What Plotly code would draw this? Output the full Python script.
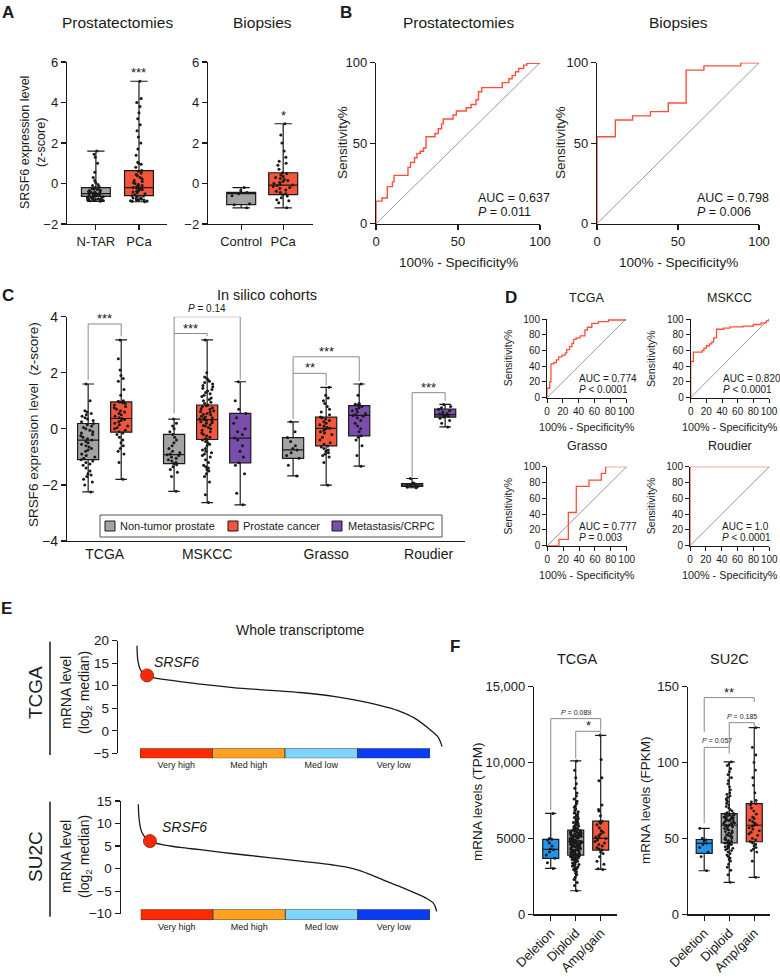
import plotly.graph_objects as go

W, H = 780, 977
FONT = "Liberation Sans, Arial, Helvetica, sans-serif"
INK = "#1a1a1a"
GRAY = "#a3a3a3"
RED = "#f4553b"
PURPLE = "#7b4dad"
BLUE = "#2196f0"
ROC_RED = "#ff4f3a"
BRACKET = "#8a8a8a"

# ---------------- Panel A data ----------------
a_cats_prost = ["N-TAR", "PCa"]
a_cats_biop = ["Control", "PCa"]
a_prost_lo = [-0.88, -0.90]
a_prost_q1 = [-0.64, -0.60]
a_prost_med = [-0.50, -0.20]
a_prost_q3 = [-0.20, 0.64]
a_prost_hi = [1.60, 5.05]
a_biop_lo = [-1.20, -1.20]
a_biop_q1 = [-1.04, -0.55]
a_biop_med = [-0.50, -0.08]
a_biop_q3 = [-0.44, 0.53]
a_biop_hi = [-0.20, 2.95]
a_ntar_pts = [-0.88, -0.85, -0.84, -0.82, -0.81, -0.80, -0.79, -0.78, -0.77, -0.76, -0.75, -0.74, -0.72, -0.70,
              -0.68, -0.66, -0.64, -0.62, -0.60, -0.58, -0.56, -0.54, -0.52, -0.50, -0.49, -0.47, -0.45, -0.43,
              -0.41, -0.39, -0.37, -0.35, -0.33, -0.30, -0.28, -0.25, -0.22, -0.20, -0.15, -0.10, -0.05, 0.05,
              0.15, 0.30, 0.55, 1.00, 1.30, 1.45, 1.60]
a_pca_pts = [-0.90, -0.88, -0.87, -0.85, -0.84, -0.82, -0.80, -0.78, -0.75, -0.72, -0.70, -0.66, -0.62, -0.60,
             -0.55, -0.50, -0.46, -0.42, -0.38, -0.34, -0.30, -0.26, -0.23, -0.20, -0.17, -0.13, -0.10, -0.05,
             0.00, 0.05, 0.10, 0.15, 0.22, 0.30, 0.38, 0.45, 0.52, 0.60, 0.64, 0.80, 0.95, 1.00, 1.05, 1.40,
             1.70, 2.00, 2.30, 2.60, 2.90, 3.20, 3.50, 3.80, 4.00, 4.20, 5.05]
a_ctrl_pts = [-1.20, -1.05, -1.00, -0.60, -0.50, -0.45, -0.35, -0.20]
a_bpca_pts = [-1.20, -0.95, -0.85, -0.80, -0.70, -0.62, -0.55, -0.50, -0.45, -0.38, -0.32, -0.25, -0.20, -0.15,
              -0.10, -0.08, -0.05, 0.00, 0.05, 0.10, 0.15, 0.20, 0.25, 0.30, 0.35, 0.42, 0.50, 0.53, 0.70, 0.90,
              1.00, 1.10, 1.30, 1.60, 2.00, 2.40, 2.95]

# ---------------- Panel B data (ROC) ----------------
b_prost_fpr = [0, 0, 3.7, 6.9, 10, 11, 19.5, 21, 23.5, 25, 27, 29, 30.5, 36, 38, 40, 41, 47, 49, 55, 58, 61,
               62.5, 64.5, 77, 81, 83, 85, 87, 90, 92, 100]
b_prost_tpr = [0, 14, 16, 23, 26, 30, 35, 38, 41, 43.7, 45, 47, 54, 56, 59, 62, 65, 67.5, 70, 72, 74, 77,
               82, 84.5, 87.6, 90, 92, 94.4, 96.5, 98.5, 99.6, 100]
b_prost_auc = "AUC = 0.637"
b_prost_p = "<i>P</i> = 0.011"
b_biop_fpr = [0, 0, 11.3, 22, 33, 44, 55, 66, 88.7, 100]
b_biop_tpr = [0, 54, 64.4, 67, 69.6, 75, 95.4, 98, 100, 100]
b_biop_auc = "AUC = 0.798"
b_biop_p = "<i>P</i> = 0.006"
diag = [0, 100]

# ---------------- Panel C data ----------------
c_groups = ["TCGA", "MSKCC", "Grasso", "Roudier"]
c_group_pos = [0.5, 3.6, 7.2, 10.3]
c_pos = [0, 1, 2.6, 3.6, 4.6, 6.2, 7.2, 8.2, 9.8, 10.8]
c_kind = ["nt", "pc", "nt", "pc", "met", "nt", "pc", "met", "nt", "met"]
c_lo = [-2.25, -1.80, -2.23, -2.63, -2.71, -1.68, -2.01, -1.33, -2.10, 0.07]
c_q1 = [-1.10, -0.12, -1.24, -0.38, -1.21, -1.05, -0.61, -0.25, -2.05, 0.42]
c_med = [-0.40, 0.37, -0.92, 0.33, -0.33, -0.75, 0.02, 0.48, -2.00, 0.51]
c_q3 = [0.19, 0.96, -0.20, 0.85, 0.55, -0.31, 0.42, 0.83, -1.95, 0.70]
c_hi = [1.60, 3.17, 0.35, 3.17, 1.68, 0.25, 1.48, 1.60, -1.77, 0.87]
c_pts = [
    [-2.25, -2.0, -1.9, -1.8, -1.7, -1.65, -1.6, -1.5, -1.4, -1.3, -1.25, -1.2, -1.15, -1.1, -1.05, -1.0, -0.95,
     -0.9, -0.8, -0.75, -0.7, -0.65, -0.6, -0.55, -0.5, -0.45, -0.4, -0.35, -0.3, -0.25, -0.2, -0.15, -0.1,
     -0.05, 0.0, 0.05, 0.1, 0.15, 0.19, 0.25, 0.3, 0.35, 0.4, 0.45, 0.5, 0.55, 0.6, 0.65, 1.0, 1.6],
    [-1.8, -1.2, -0.9, -0.8, -0.7, -0.6, -0.5, -0.4, -0.3, -0.2, -0.15, -0.1, -0.05, 0.0, 0.05, 0.1, 0.15, 0.2,
     0.25, 0.3, 0.33, 0.37, 0.4, 0.45, 0.5, 0.55, 0.6, 0.65, 0.7, 0.75, 0.8, 0.85, 0.9, 0.93, 0.96, 0.98, 1.0,
     1.2, 1.4, 1.7, 1.8, 1.9, 2.1, 2.5, 3.17],
    [-2.23, -1.7, -1.55, -1.45, -1.35, -1.28, -1.24, -1.2, -1.15, -1.1, -1.05, -1.0, -0.95, -0.92, -0.9, -0.85,
     -0.8, -0.7, -0.6, -0.5, -0.4, -0.3, -0.2, -0.1, 0.0, 0.1, 0.2, 0.35],
    [-2.63, -2.35, -1.9, -1.7, -1.6, -1.5, -1.45, -1.4, -1.35, -1.3, -1.2, -1.1, -1.0, -0.95, -0.9, -0.85, -0.8,
     -0.75, -0.7, -0.6, -0.55, -0.5, -0.45, -0.4, -0.38, -0.35, -0.3, -0.25, -0.2, -0.15, -0.1, -0.05, 0.0,
     0.05, 0.1, 0.12, 0.15, 0.2, 0.22, 0.25, 0.28, 0.3, 0.33, 0.35, 0.38, 0.4, 0.42, 0.45, 0.5, 0.52, 0.55,
     0.6, 0.62, 0.65, 0.7, 0.72, 0.75, 0.8, 0.82, 0.85, 0.9, 0.95, 1.0, 1.05, 1.1, 1.15, 1.2, 1.25, 1.3, 1.35,
     1.4, 1.45, 1.5, 1.55, 1.6, 1.65, 1.7, 1.75, 1.8, 1.85, 2.0, 3.17],
    [-2.71, -2.3, -1.6, -1.3, -1.21, -1.0, -0.8, -0.6, -0.4, -0.33, -0.2, -0.1, 0.0, 0.2, 0.4, 0.55, 0.7, 1.0,
     1.68],
    [-1.68, -1.3, -1.05, -0.95, -0.85, -0.75, -0.7, -0.6, -0.45, -0.31, -0.1, 0.25],
    [-2.01, -1.2, -1.0, -0.95, -0.9, -0.85, -0.8, -0.75, -0.7, -0.65, -0.61, -0.55, -0.5, -0.4, -0.3, -0.2,
     -0.15, -0.1, -0.05, 0.0, 0.02, 0.05, 0.1, 0.15, 0.2, 0.25, 0.3, 0.35, 0.4, 0.42, 0.5, 0.6, 0.7, 0.8, 0.9,
     1.0, 1.1, 1.2, 1.48],
    [-1.33, -0.95, -0.6, -0.4, -0.3, -0.25, -0.1, 0.0, 0.1, 0.2, 0.3, 0.4, 0.45, 0.48, 0.5, 0.55, 0.6, 0.65,
     0.7, 0.75, 0.8, 0.83, 0.85, 0.88, 0.9, 1.2, 1.6],
    [-2.1, -2.07, -2.05, -2.03, -2.0, -1.98, -1.96, -1.93, -1.77],
    [0.07, 0.2, 0.3, 0.38, 0.42, 0.45, 0.48, 0.5, 0.51, 0.53, 0.55, 0.6, 0.65, 0.7, 0.75, 0.8, 0.87],
]
c_legend = ["Non-tumor prostate", "Prostate cancer", "Metastasis/CRPC"]
# brackets: x_left, x_right, y_top, y_left_end, y_right_end, label
c_brackets = [
    (0, 1, 3.74, 1.75, 3.3, "***"),
    (2.6, 3.6, 3.40, 0.55, 3.3, "***"),
    (2.6, 4.6, 4.00, 3.40, 1.75, "<i>P</i> = 0.14"),
    (6.2, 7.2, 1.98, 0.35, 1.55, "**"),
    (6.2, 8.2, 2.57, 1.98, 1.70, "***"),
    (9.8, 10.8, 1.29, -1.72, 1.00, "***"),
]

# ---------------- Panel D data ----------------
d_names = ["TCGA", "MSKCC", "Grasso", "Roudier"]
d_fpr = [
    [0, 0, 3.4, 5, 8.4, 11.8, 14.7, 19, 23, 25, 28.6, 31.5, 33.6, 37, 42, 48, 51, 56.7, 65, 78, 100],
    [0, 0, 3.4, 14.7, 17, 20, 24, 27, 29.4, 33, 42, 50, 67, 80, 90, 96.6, 100],
    [0, 14.7, 26.5, 36.5, 52.5, 68, 73.5, 100],
    [0, 0, 100],
]
d_tpr = [
    [0, 12, 20, 43, 44.5, 48, 52, 54, 57, 61, 65, 69, 74, 76, 78.5, 86, 89.5, 94.5, 96.6, 98.7, 100],
    [0, 46, 58, 60, 63, 66, 68.5, 71, 76, 87, 88.5, 90, 91, 93, 95, 97.5, 100],
    [0, 8, 42, 75, 83, 91.6, 100, 100],
    [0, 100, 100],
]
d_auc = ["AUC = 0.774", "AUC = 0.820", "AUC = 0.777", "AUC = 1.0"]
d_p = ["<i>P</i> &lt; 0.0001", "<i>P</i> &lt; 0.0001", "<i>P</i> = 0.003", "<i>P</i> &lt; 0.0001"]

# ---------------- Panel E data ----------------
e_tcga_rank = [0, 0.3, 1, 2, 3.3, 6, 10, 20, 31.5, 45, 53.4, 65, 75.4, 82, 86.2, 91, 96, 98.5, 99.5, 100]
e_tcga_val = [18.9, 15.5, 13.7, 12.8, 12.3, 11.7, 11.3, 10.4, 9.6, 8.9, 8.5, 7.6, 6.3, 5.2, 4.3, 2.8, 0.3,
              -1.2, -2.5, -3.5]
e_tcga_srsf6 = (3.3, 12.3)
e_su2c_rank = [0, 0.2, 0.6, 1.2, 2.5, 3.9, 8, 14, 20.7, 32, 43, 55, 65.2, 72, 76.5, 82, 87.7, 93, 96.6, 98.8,
               99.6, 100]
e_su2c_val = [14.3, 11.5, 9.5, 8.0, 6.8, 6.1, 5.3, 4.7, 4.2, 3.3, 2.5, 1.6, 0.8, 0.0, -1.0, -2.5, -4.0, -5.5,
              -6.6, -7.6, -8.6, -9.5]
e_su2c_srsf6 = (3.9, 6.1)
e_bins = ["Very high", "Med high", "Med low", "Very low"]
e_bin_size = [1, 1, 1, 1]
e_bin_colors = ["#ff2a00", "#ffa11e", "#7dd5fb", "#0a3cf5"]

# ---------------- Panel F data ----------------
f_cats = ["Deletion", "Diploid", "Amp/gain"]
f_colors = [BLUE, GRAY, RED]
f_tcga_lo = [3026, 1553, 2960]
f_tcga_q1 = [3684, 3901, 4230]
f_tcga_med = [4276, 4776, 5000]
f_tcga_q3 = [4934, 5546, 6138]
f_tcga_hi = [6645, 10105, 11796]
f_su2c_lo = [28.7, 21.0, 24.3]
f_su2c_q1 = [40.1, 47.1, 47.8]
f_su2c_med = [46.7, 58.7, 58.7]
f_su2c_q3 = [49.3, 66.4, 73.0]
f_su2c_hi = [56.6, 100.4, 123.0]
f_tcga_pts = [
    [3026, 3400, 3700, 3900, 4100, 4250, 4300, 4500, 4700, 4900, 4950, 5000, 6645],
    [1553, 1900, 2100, 2300, 2450, 2600, 2700, 2800, 2880, 2950, 3000, 3060, 3120, 3180, 3230, 3280, 3330,
     3380, 3420, 3460, 3500, 3540, 3580, 3610, 3640, 3670, 3700, 3730, 3760, 3790, 3810, 3830, 3850, 3870,
     3880, 3890, 3900, 3920, 3950, 3980, 4000, 4030, 4060, 4090, 4110, 4140, 4160, 4190, 4210, 4240, 4260,
     4290, 4310, 4340, 4360, 4390, 4410, 4430, 4460, 4480, 4500, 4520, 4540, 4560, 4590, 4610, 4630, 4650,
     4670, 4690, 4710, 4730, 4750, 4760, 4776, 4790, 4810, 4830, 4850, 4870, 4890, 4910, 4930, 4950, 4970,
     4990, 5010, 5030, 5050, 5070, 5090, 5110, 5130, 5150, 5170, 5190, 5210, 5230, 5250, 5270, 5290, 5310,
     5330, 5350, 5370, 5390, 5410, 5430, 5450, 5470, 5500, 5520, 5546, 5580, 5620, 5660, 5700, 5740, 5780,
     5820, 5860, 5900, 5950, 6000, 6050, 6100, 6150, 6200, 6260, 6320, 6380, 6450, 6520, 6600, 6680, 6760,
     6850, 6950, 7050, 7150, 7300, 7450, 7600, 7800, 8000, 8300, 8600, 9000, 9500, 10105],
    [2960, 3000, 3300, 3500, 3800, 4000, 4100, 4230, 4300, 4400, 4500, 4600, 4700, 4800, 4900, 5000, 5050,
     5100, 5200, 5300, 5400, 5500, 5700, 5900, 6000, 6100, 6138, 6500, 6800, 6900, 7200, 8800, 9000, 10200,
     11796],
]
f_su2c_pts = [
    [28.7, 38, 41, 44, 46, 46.7, 48, 49, 50, 56.6],
    [21, 26, 29, 31, 33, 35, 36, 37, 38, 39, 40, 41, 42, 42.5, 43, 43.5, 44, 44.5, 45, 45.5, 46, 46.3, 46.6,
     46.9, 47.1, 47.5, 48, 48.5, 49, 49.5, 50, 50.5, 51, 51.5, 52, 52.5, 53, 53.5, 54, 54.5, 55, 55.5, 56,
     56.5, 57, 57.5, 58, 58.3, 58.5, 58.7, 59, 59.3, 59.6, 60, 60.3, 60.6, 61, 61.3, 61.6, 62, 62.3, 62.6, 63,
     63.3, 63.6, 64, 64.3, 64.6, 65, 65.3, 65.6, 65.9, 66.1, 66.3, 66.4, 67, 68, 69, 70, 71, 72, 73, 74, 75,
     76, 77, 78, 79, 80, 82, 84, 86, 88, 90, 92, 94, 96, 98, 99, 100.4],
    [24.3, 35, 41, 42, 43, 44, 45, 46, 47, 47.8, 49, 50, 52, 53, 54, 55, 56, 57, 58, 58.7, 59, 60, 61, 62, 63,
     64, 66, 68, 70, 72, 73, 74, 75, 80, 85, 90, 95, 100, 105, 110, 123],
]
f_tcga_brackets = [
    (0, 2, 12895, 6862, 12125, "<i>P</i> = 0.089"),
    (1, 2, 12059, 10283, 11842, "*"),
]
f_su2c_brackets = [
    (0, 2, 142.8, 120.0, 139.8, "**"),
    (1, 2, 126.3, 110.0, 124.0, "<i>P</i> = 0.185"),
    (0, 1, 110.0, 60.0, 105.9, "<i>P</i> = 0.057"),
]

# =====================================================================
fig = go.Figure()
axes = {}
count = [0]
ann = []
shapes = []


def new_axes(x0, x1, y0, y1, xr, yr, xopt=None, yopt=None, fs=13, lw=1.2, tl=5):
    count[0] += 1
    n = count[0]
    s = "" if n == 1 else str(n)
    base = dict(showgrid=False, zeroline=False, showline=True, linecolor=INK, linewidth=lw,
                ticks="outside", ticklen=tl, tickwidth=lw, tickcolor=INK, tickangle=0, automargin=False,
                tickfont=dict(size=fs, color=INK, family=FONT), fixedrange=True)
    xa = dict(base, domain=[x0 / W, x1 / W], range=xr, anchor="y" + s)
    ya = dict(base, domain=[1 - y1 / H, 1 - y0 / H], range=yr, anchor="x" + s)
    if xopt:
        xa.update(xopt)
    if yopt:
        ya.update(yopt)
    axes["xaxis" + s] = xa
    axes["yaxis" + s] = ya
    return "x" + s, "y" + s


def txt(x, y, s, size=13, xa="center", ya="middle", angle=0, bold=False, xref="paper", yref="paper",
        color=INK, yshift=0):
    if xref == "paper":
        x = x / W
    if yref == "paper":
        y = 1 - y / H
    if bold:
        s = "<b>" + s + "</b>"
    ann.append(dict(x=x, y=y, xref=xref, yref=yref, text=s, showarrow=False, xanchor=xa, yanchor=ya,
                    textangle=angle, yshift=yshift, font=dict(size=size, color=color, family=FONT)))


def rect_px(x0, y0, x1, y1, fill, lw=1, lc=INK):
    shapes.append(dict(type="rect", xref="paper", yref="paper", x0=x0 / W, x1=x1 / W, y0=1 - y1 / H,
                       y1=1 - y0 / H, fillcolor=fill, line=dict(color=lc, width=lw)))


def box(xa, ya, pos, lo, q1, med, q3, hi, color, width, ww=0.6):
    fig.add_trace(go.Box(x=[pos], q1=[q1], median=[med], q3=[q3], lowerfence=[lo], upperfence=[hi],
                         orientation="v", width=width, whiskerwidth=ww, fillcolor=color,
                         line=dict(color=INK, width=1.2), boxpoints=False, xaxis=xa, yaxis=ya,
                         showlegend=False, hoverinfo="skip"))


def pts(xa, ya, pos, vals, width, jitter=0.75, size=3):
    fig.add_trace(go.Box(x=[pos] * len(vals), y=vals, orientation="v", width=width, boxpoints="all",
                         jitter=jitter, pointpos=0, fillcolor="rgba(0,0,0,0)",
                         line=dict(color="rgba(0,0,0,0)", width=0),
                         marker=dict(size=size, color=INK, line=dict(width=0)),
                         xaxis=xa, yaxis=ya, showlegend=False, hoverinfo="skip"))


def bracket(xa, ya, b, fs=13, pfs=9.5):
    xl, xr, yt, yl, yr, lab = b
    fig.add_trace(go.Scatter(x=[xl, xl, xr, xr], y=[yl, yt, yt, yr], mode="lines",
                             line=dict(color=BRACKET, width=1), xaxis=xa, yaxis=ya, showlegend=False,
                             hoverinfo="skip", cliponaxis=False))
    if "P" in lab:
        txt((xl + xr) / 2, yt, lab, size=pfs, ya="bottom", xref=xa, yref=ya, yshift=1)
    else:
        txt((xl + xr) / 2, yt, lab, size=fs, ya="bottom", xref=xa, yref=ya, yshift=-4)


def roc(xa, ya, fpr, tpr, width=1.4):
    fig.add_trace(go.Scatter(x=diag, y=diag, mode="lines", line=dict(color="#555555", width=0.6),
                             xaxis=xa, yaxis=ya, showlegend=False, hoverinfo="skip", cliponaxis=False))
    fig.add_trace(go.Scatter(x=fpr, y=tpr, mode="lines", line=dict(color=ROC_RED, width=width, shape="hv"),
                             xaxis=xa, yaxis=ya, showlegend=False, hoverinfo="skip", cliponaxis=False))


# ---------------- Panel A ----------------
xa, ya = new_axes(67, 167, 62, 224, [-0.67, 1.65], [-2, 6],
                  xopt=dict(tickvals=[0, 1], ticktext=a_cats_prost), yopt=dict(tickvals=[-2, 0, 2, 4, 6]))
for i, col in enumerate([GRAY, RED]):
    box(xa, ya, i, a_prost_lo[i], a_prost_q1[i], a_prost_med[i], a_prost_q3[i], a_prost_hi[i], col, 0.67)
pts(xa, ya, 0, a_ntar_pts, 0.67)
pts(xa, ya, 1, a_pca_pts, 0.67)
txt(1, 5.5, "***", size=13, xref=xa, yref=ya)

xa, ya = new_axes(208, 313, 62, 224, [-0.79, 1.71], [-2, 6],
                  xopt=dict(tickvals=[0, 1], ticktext=a_cats_biop), yopt=dict(tickvals=[-2, 0, 2, 4, 6]))
for i, col in enumerate([GRAY, RED]):
    box(xa, ya, i, a_biop_lo[i], a_biop_q1[i], a_biop_med[i], a_biop_q3[i], a_biop_hi[i], col, 0.69)
pts(xa, ya, 0, a_ctrl_pts, 0.69)
pts(xa, ya, 1, a_bpca_pts, 0.69)
txt(1, 3.36, "*", size=13, xref=xa, yref=ya)

txt(8, 12, "A", size=17, bold=True)
txt(118, 23, "Prostatectomies", size=15.5)
txt(262, 23, "Biopsies", size=15.5)
txt(33, 143, "SRSF6 expression level<br>(z-score)", size=12.5, angle=-90)

# ---------------- Panel B ----------------
xa, ya = new_axes(376, 540, 62.7, 223.7, [0, 100], [0, 100],
                  xopt=dict(tickvals=[0, 50, 100]), yopt=dict(tickvals=[0, 50, 100]))
roc(xa, ya, b_prost_fpr, b_prost_tpr)
xa, ya = new_axes(597, 759, 62.7, 223.7, [0, 100], [0, 100],
                  xopt=dict(tickvals=[0, 50, 100]), yopt=dict(tickvals=[0, 50, 100]))
roc(xa, ya, b_biop_fpr, b_biop_tpr)
txt(346, 12, "B", size=17, bold=True)
txt(458, 23, "Prostatectomies", size=15.5)
txt(678, 23, "Biopsies", size=15.5)
txt(343, 143, "Sensitivity%", size=13.5, angle=-90)
txt(561, 143, "Sensitivity%", size=13.5, angle=-90)
txt(458, 262, "100% - Specificity%", size=13.5)
txt(678, 262, "100% - Specificity%", size=13.5)
txt(476, 198, b_prost_auc, size=12.5, xa="left")
txt(476, 212, b_prost_p, size=12.5, xa="left")
txt(695, 198, b_biop_auc, size=12.5, xa="left")
txt(695, 212, b_biop_p, size=12.5, xa="left")

# ---------------- Panel C ----------------
xa, ya = new_axes(67, 465, 316.7, 541, [-0.64, 11.4], [-4, 4], fs=14,
                  xopt=dict(tickvals=c_group_pos, ticktext=c_groups, ticks=""),
                  yopt=dict(tickvals=[-4, -2, 0, 2, 4]))
kind_col = {"nt": GRAY, "pc": RED, "met": PURPLE}
for i in range(len(c_pos)):
    box(xa, ya, c_pos[i], c_lo[i], c_q1[i], c_med[i], c_q3[i], c_hi[i], kind_col[c_kind[i]], 0.64, ww=0.55)
    pts(xa, ya, c_pos[i], c_pts[i], 0.64)
for b in c_brackets:
    bracket(xa, ya, b, fs=13, pfs=10)
# legend box (drawn as a key with real text)
rect_px(100, 515, 442, 537, "white", lw=1, lc="#555555")
for name, col, sx, tx in zip(c_legend, [GRAY, RED, PURPLE], [105, 228, 332], [118, 241, 346]):
    rect_px(sx, 521, sx + 10, 531, col, lw=1, lc=INK)
    txt(tx, 526, name, size=11, xa="left")
txt(8, 295, "C", size=17, bold=True)
txt(267, 295, "In silico cohorts", size=14.5)
txt(33, 425, "SRSF6 expression level  (z-score)", size=13.5, angle=-90)

# ---------------- Panel D ----------------
d_boxes = [(547, 626, 319, 397.7), (690.7, 769, 319, 397.7), (547.3, 626.7, 466.7, 545.7),
           (690, 769.3, 466.7, 545.7)]
for k, (x0, x1, y0, y1) in enumerate(d_boxes):
    xa, ya = new_axes(x0, x1, y0, y1, [0, 100], [0, 100], fs=10, lw=1, tl=4,
                      xopt=dict(dtick=20), yopt=dict(dtick=20))
    roc(xa, ya, d_fpr[k], d_tpr[k], width=1.3)
    cx = (x0 + x1) / 2
    txt(cx, y0 - 21, d_names[k], size=12.5)
    txt(x0 - 39, (y0 + y1) / 2, "Sensitivity%", size=10.5, angle=-90)
    txt(cx, y1 + 29, "100% - Specificity%", size=10.8)
    txt(x0 + 30, y1 - 19, d_auc[k], size=10, xa="left")
    txt(x0 + 30, y1 - 8, d_p[k], size=10, xa="left")
txt(511, 297, "D", size=17, bold=True)


# ---------------- Panel E ----------------
def e_panel(curve_box, bar_box, yr, yt, rank, val, dot, label_xy, big, big_y, sep):
    x0, x1, y0, y1, xr = curve_box
    xa, ya = new_axes(x0, x1, y0, y1, xr, yr, fs=13.5,
                      xopt=dict(visible=False),
                      yopt=dict(tickvals=yt))
    fig.add_trace(go.Scatter(x=rank, y=val, mode="lines", line=dict(color=INK, width=1.3, shape="spline"),
                             xaxis=xa, yaxis=ya, showlegend=False, hoverinfo="skip", cliponaxis=False))
    fig.add_trace(go.Scatter(x=[dot[0]], y=[dot[1]], mode="markers",
                             marker=dict(size=13, color="#f52a0c", line=dict(color="#9a1a00", width=0.8)),
                             xaxis=xa, yaxis=ya, showlegend=False, hoverinfo="skip", cliponaxis=False))
    bx0, bx1, by0, by1 = bar_box
    xb, yb = new_axes(bx0, bx1, by0, by1, [-0.5, 3.5], [0, 1], fs=9,
                      xopt=dict(showline=False, ticks="", tickvals=[0, 1, 2, 3], ticktext=e_bins),
                      yopt=dict(visible=False, tickvals=[]))
    fig.add_trace(go.Bar(x=[0, 1, 2, 3], y=e_bin_size, width=1,
                         marker=dict(color=e_bin_colors, line=dict(color="#3a3a3a", width=0.8)),
                         xaxis=xb, yaxis=yb, showlegend=False, hoverinfo="skip"))
    txt(label_xy[0], label_xy[1], "<i>SRSF6</i>", size=14)
    txt(35, big_y, big, size=19, angle=-90)
    txt(76, big_y, "mRNA level<br>(log<sub>2</sub> median)", size=14, angle=-90)
    shapes.append(dict(type="line", xref="paper", yref="paper", x0=50 / W, x1=50 / W,
                       y0=1 - sep[0] / H, y1=1 - sep[1] / H, line=dict(color=INK, width=1.5)))


e_panel((118, 445, 640.7, 753.3, [-6.23, 100.98]), (140, 430, 748.3, 758.3), [-5, 20], [-5, 0, 5, 10, 15, 20],
        e_tcga_rank, e_tcga_val, e_tcga_srsf6, (176, 662), "TCGA", 693, (641.7, 755))
e_panel((120.7, 440, 801, 913.7, [-5.9, 101.1]), (140.7, 430, 909.3, 920), [-10, 15], [-10, -5, 0, 5, 10, 15],
        e_su2c_rank, e_su2c_val, e_su2c_srsf6, (184, 827), "SU2C", 857, (801.7, 916.7))
txt(7, 608, "E", size=17, bold=True)
txt(300, 630, "Whole transcriptome", size=14)

# ---------------- Panel F ----------------
xa, ya = new_axes(534, 616.7, 686.7, 914.3, [-0.67, 2.64], [0, 15000], fs=13,
                  xopt=dict(tickvals=[0, 1, 2], ticktext=f_cats, tickangle=-45),
                  yopt=dict(tickvals=[0, 5000, 10000, 15000], ticktext=["0", "5000", "10,000", "15,000"]))
for i in range(3):
    box(xa, ya, i, f_tcga_lo[i], f_tcga_q1[i], f_tcga_med[i], f_tcga_q3[i], f_tcga_hi[i], f_colors[i], 0.64,
        ww=0.7)
    pts(xa, ya, i, f_tcga_pts[i], 0.64, size=3)
for b in f_tcga_brackets:
    bracket(xa, ya, b, fs=13, pfs=7)

xa, ya = new_axes(687.7, 770, 686.7, 914.3, [-0.66, 2.63], [0, 150], fs=13,
                  xopt=dict(tickvals=[0, 1, 2], ticktext=f_cats, tickangle=-45),
                  yopt=dict(tickvals=[0, 50, 100, 150]))
for i in range(3):
    box(xa, ya, i, f_su2c_lo[i], f_su2c_q1[i], f_su2c_med[i], f_su2c_q3[i], f_su2c_hi[i], f_colors[i], 0.64,
        ww=0.7)
    pts(xa, ya, i, f_su2c_pts[i], 0.64, size=2.8)
for b in f_su2c_brackets:
    bracket(xa, ya, b, fs=13, pfs=7)

txt(455, 646, "F", size=17, bold=True)
txt(577, 659, "TCGA", size=14.5)
txt(729, 659, "SU2C", size=14.5)
txt(477, 802, "mRNA levels (TPM)", size=13.5, angle=-90)
txt(645, 800, "mRNA levels (FPKM)", size=13.5, angle=-90)

fig.update_layout(
    width=W, height=H, margin=dict(l=0, r=0, t=0, b=0, pad=0, autoexpand=False),
    paper_bgcolor="white", plot_bgcolor="rgba(0,0,0,0)",
    font=dict(family=FONT, color=INK),
    boxmode="overlay", bargap=0,
    showlegend=False,
    annotations=ann, shapes=shapes,
    **axes,
)

fig.write_html(
    "out.html",
    config={"displayModeBar": False, "staticPlot": True},
    post_script="document.body.style.margin='0';document.body.style.padding='0';"
                "document.body.style.overflow='hidden';",
)
